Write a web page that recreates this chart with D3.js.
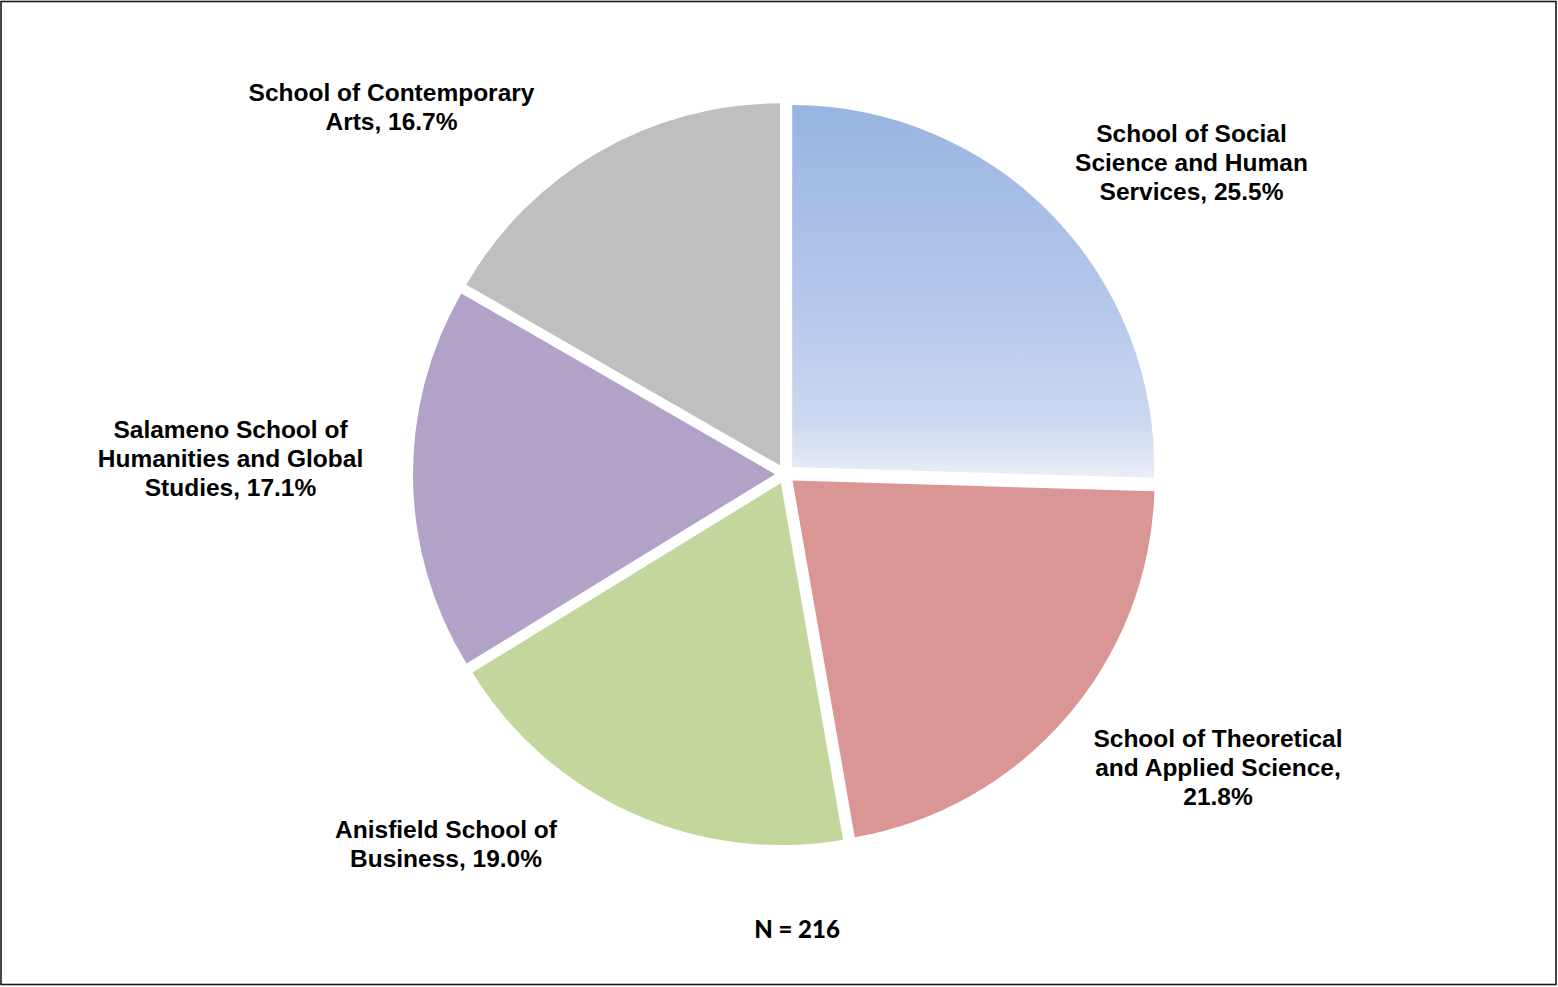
<!DOCTYPE html>
<html><head><meta charset="utf-8">
<script src="https://cdn.jsdelivr.net/npm/d3@7"></script>
<style>
html,body{margin:0;padding:0;background:#fff;}
svg{display:block;}
</style></head>
<body>
<svg id="chart" width="1558" height="987"></svg>
<script>
const categories = [
  "School of Social Science and Human Services",
  "School of Theoretical and Applied Science",
  "Anisfield School of Business",
  "Salameno School of Humanities and Global Studies",
  "School of Contemporary Arts"
];
const percents = [25.5, 21.8, 19.0, 17.1, 16.7];
const labelLines = [
  ["School of Social", "Science and Human", "Services, 25.5%"],
  ["School of Theoretical", "and Applied Science,", "21.8%"],
  ["Anisfield School of", "Business, 19.0%"],
  ["Salameno School of", "Humanities and Global", "Studies, 17.1%"],
  ["School of Contemporary", "Arts, 16.7%"]
];
const colors = ["url(#blueGrad)", "#d99694", "#c3d69b", "#b3a2c7", "#bfbfbf"];
const nLabel = "N = 216";

// layout
const W = 1558, H = 987;
const cx = 785, cy = 474, R = 362, explode = 10;
const labelCenters = [[1191.5, 162], [1218, 767], [446, 844], [230.5, 458], [391.5, 107]];
const lineH = 29;

const svg = d3.select("#chart");
const defs = svg.append("defs");
const g1 = defs.append("linearGradient").attr("id", "blueGrad")
  .attr("x1", 0).attr("y1", 0).attr("x2", 0).attr("y2", 1);
g1.append("stop").attr("offset", "0%").attr("stop-color", "#99b4e2");
g1.append("stop").attr("offset", "55%").attr("stop-color", "#b6c8eb");
g1.append("stop").attr("offset", "85%").attr("stop-color", "#ccd8f0");
g1.append("stop").attr("offset", "100%").attr("stop-color", "#e9eef8");

svg.append("rect").attr("x", 1).attr("y", 1.5).attr("width", W - 3).attr("height", H - 4)
  .attr("fill", "#fff").attr("stroke", "#1a1a1a").attr("stroke-width", 1.6);

const pie = d3.pie().sort(null).value(d => d);
const arcs = pie(percents);
const arc = d3.arc().innerRadius(0).outerRadius(R);

const pg = svg.append("g").attr("transform", `translate(${cx},${cy})`);
pg.selectAll("path").data(arcs).join("path")
  .attr("d", arc)
  .attr("fill", (d, i) => colors[i])
  .attr("transform", d => {
    const a = (d.startAngle + d.endAngle) / 2;
    return `translate(${explode * Math.sin(a)},${-explode * Math.cos(a)})`;
  });

const lg = svg.append("g")
  .attr("font-family", "'Liberation Sans', Arial, sans-serif")
  .attr("font-weight", "bold").attr("font-size", 24.5).attr("fill", "#000");
labelLines.forEach((lines, i) => {
  const [lx, ly] = labelCenters[i];
  const t = lg.append("text").attr("text-anchor", "middle");
  lines.forEach((s, j) => {
    t.append("tspan").attr("x", lx)
      .attr("y", ly + (j - (lines.length - 1) / 2) * lineH)
      .attr("dy", "0.35em").text(s);
  });
});

svg.append("text").attr("x", 797).attr("y", 930).attr("dy", "0.35em")
  .attr("text-anchor", "middle")
  .attr("font-family", "Lato, 'Open Sans', sans-serif")
  .attr("font-weight", 900).attr("font-size", 24).text(nLabel);
</script>
</body></html>
